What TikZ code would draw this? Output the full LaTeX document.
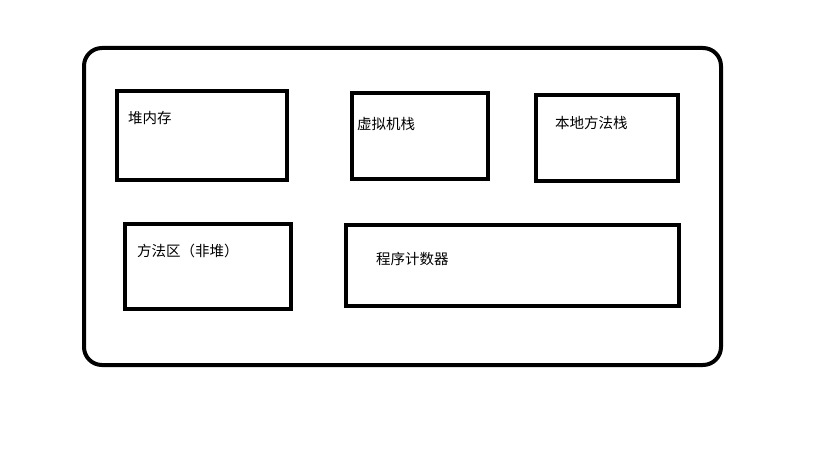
\documentclass[tikz,border=0pt]{standalone}
\usepackage{fontspec}
\newfontfamily\cjk{Noto Sans CJK SC}
\begin{document}
\begin{tikzpicture}[x=1pt,y=-1pt,
  bx/.style={draw=black,line width=4pt},
  lbl/.style={anchor=west,inner sep=0pt,font=\cjk\fontsize{14.5}{16}\selectfont}]
\useasboundingbox (0,0) rectangle (819,460);
\draw[bx,rounded corners=18pt] (84,48) rectangle (721,365);
\draw[bx] (117,91) rectangle (287,180);
\draw[bx] (352,93) rectangle (488,179);
\draw[bx] (536,95) rectangle (678,181);
\draw[bx] (125,224) rectangle (291,309);
\draw[bx] (346,225) rectangle (679,306);
\node[lbl] (a) at (128,118) {堆内存};
\node[lbl] (b) at (357,124) {虚拟机栈};
\node[lbl] (c) at (555,123) {本地方法栈};
\node[lbl] (d) at (137,251) {方法区（非堆）};
\node[lbl] (e) at (376,259) {程序计数器};
\end{tikzpicture}
\end{document}
